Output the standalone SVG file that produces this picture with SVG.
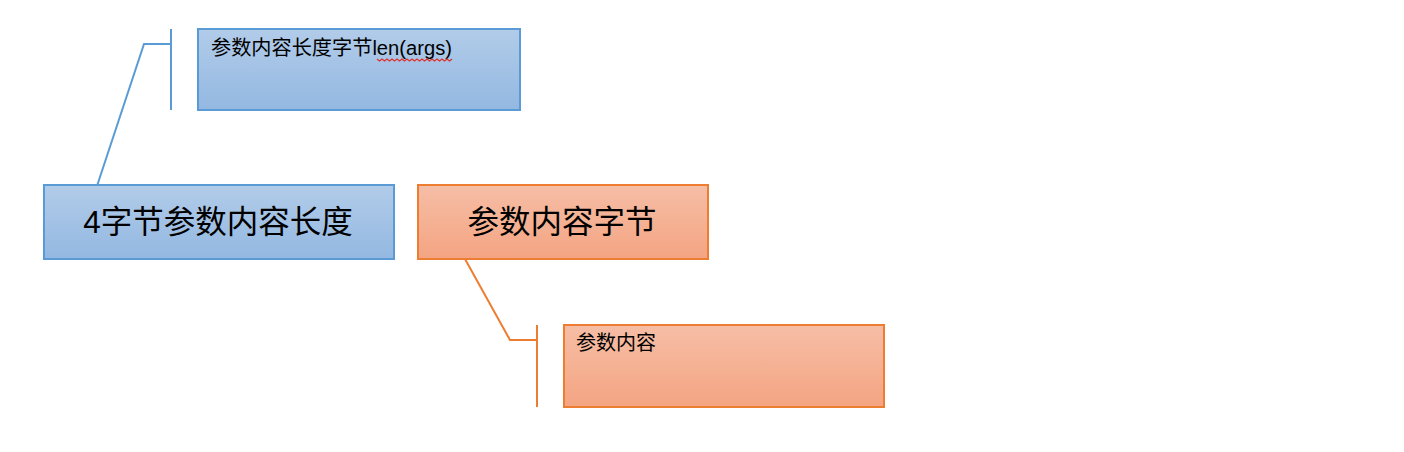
<svg xmlns="http://www.w3.org/2000/svg" width="1404" height="452" viewBox="0 0 1404 452">
<defs>
<linearGradient id="gBlue" x1="0" y1="0" x2="0" y2="1"><stop offset="0" stop-color="#b2cce9"/><stop offset="1" stop-color="#93b8e1"/></linearGradient>
<linearGradient id="gOrange" x1="0" y1="0" x2="0" y2="1"><stop offset="0" stop-color="#f6bea6"/><stop offset="1" stop-color="#f4a482"/></linearGradient>
<style>
.blue{fill:url(#gBlue);stroke:#5b9bd5;stroke-width:2}
.orange{fill:url(#gOrange);stroke:#ed7d31;stroke-width:2}
.cb{fill:none;stroke:#5b9bd5;stroke-width:2}
.co{fill:none;stroke:#ed7d31;stroke-width:2}
.big{font-family:"Liberation Sans","Noto Sans CJK SC",sans-serif;font-size:31.5px;fill:#000;text-anchor:middle}
.small{font-family:"Liberation Sans","Noto Sans CJK SC",sans-serif;font-size:20px;fill:#000}
</style>
</defs>
<rect width="1404" height="452" fill="#fff"/>
<g id="connectors">
<polyline class="cb" points="96,189 144,44 171,44"/>
<line class="cb" x1="171" y1="29" x2="171" y2="110"/>
<polyline class="co" points="465,259 510,340 537,340"/>
<line class="co" x1="537" y1="325" x2="537" y2="407"/>
</g>
<g id="node-len">
<rect class="blue" x="44" y="185" width="350" height="74"/>
<text class="big" x="218" y="233">4字节参数内容长度</text>
</g>
<g id="node-content">
<rect class="orange" x="418" y="185" width="290" height="74"/>
<text class="big" x="562" y="233">参数内容字节</text>
</g>
<g id="note-len">
<rect class="blue" x="198" y="29" width="322" height="81"/>
<text class="small" x="211" y="55" textLength="241" lengthAdjust="spacingAndGlyphs">参数内容长度字节len(args)</text>
<path d="M377,59 l2.5,2 l2.5,-2 l2.5,2 l2.5,-2 l2.5,2 l2.5,-2 l2.5,2 l2.5,-2 l2.5,2 l2.5,-2 l2.5,2 l2.5,-2 l2.5,2 l2.5,-2 l2.5,2 l2.5,-2 l2.5,2 l2.5,-2 l2.5,2 l2.5,-2 l2.5,2 l2.5,-2 l2.5,2 l2.5,-2 l2.5,2 l2.5,-2 l2.5,2 l2.5,-2 l2.5,2 l2.5,-2" fill="none" stroke="#e0302a" stroke-width="1.2"/>
</g>
<g id="note-content">
<rect class="orange" x="564" y="325" width="320" height="82"/>
<text class="small" x="576" y="350">参数内容</text>
</g>
</svg>
